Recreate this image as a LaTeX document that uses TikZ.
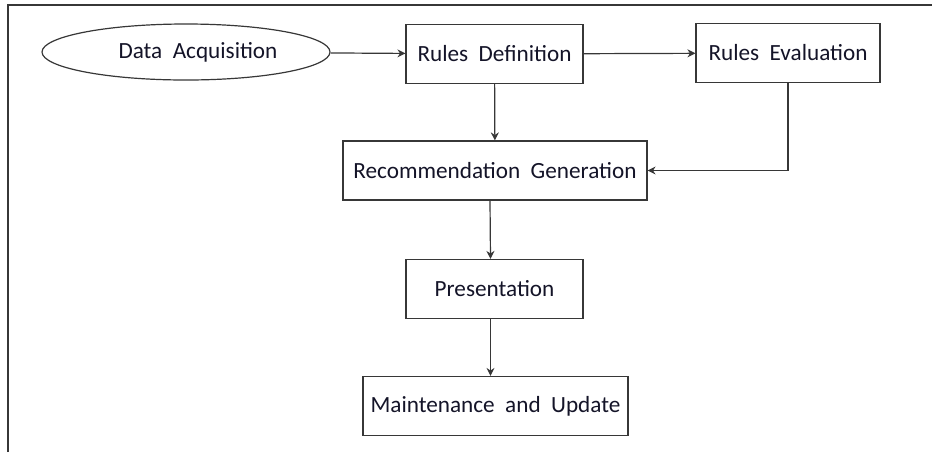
\documentclass[tikz,border=0pt]{standalone}
\usepackage{fontspec}
\setmainfont{Carlito}
\usepackage{tikz}
\usetikzlibrary{arrows.meta,positioning,shapes.geometric}
\definecolor{linegray}{RGB}{55,55,55}
\definecolor{textnavy}{RGB}{20,20,40}
\tikzset{
  stepbox/.style={draw=linegray,line width=0.6pt,minimum height=29.5pt,
    align=center,inner sep=3pt,font=\fontsize{11.6}{14}\selectfont,text=textnavy,fill=white},
  startnode/.style={stepbox,ellipse,minimum width=144pt,minimum height=28pt},
  flow/.style={-{Stealth[length=4pt,width=4pt]},line width=0.6pt,draw=linegray}
}

\begin{document}
\begin{tikzpicture}[x=0.5pt,y=-0.5pt]
  \useasboundingbox (0,0) rectangle (932,452);
  % frame
  \draw[linegray,line width=0.7pt] (8,452) -- (8,5) -- (932,5);

  \node[startnode] (acq) at (186,52) {\hspace*{12pt}Data\ \ Acquisition};
  \node[stepbox,minimum width=88.5pt] (rdef) at (494.5,54) {Rules\ \ Definition};
  \node[stepbox,minimum width=92pt] (reval) at (788,53) {Rules\ \ Evaluation};
  \node[stepbox,minimum width=152pt] (rgen) at (495,170.5) {Recommendation\ \ Generation};
  \node[stepbox,minimum width=88.5pt] (pres) at (494.5,289) {Presentation};
  \node[stepbox,minimum width=132.5pt] (maint) at (495.5,406) {Maintenance\ \ and\ \ Update};

  \draw[flow] (acq) -- (rdef);
  \draw[flow] (rdef) -- (reval);
  \draw[flow] (rdef) -- (rgen);
  \draw[flow] (reval.south) |- (rgen.east);
  \draw[flow] ([xshift=-2.5pt]rgen.south) -- ([xshift=-2pt]pres.north);
  \draw[flow] ([xshift=-2pt]pres.south) -- ([xshift=-2.5pt]maint.north);
\end{tikzpicture}
\end{document}
